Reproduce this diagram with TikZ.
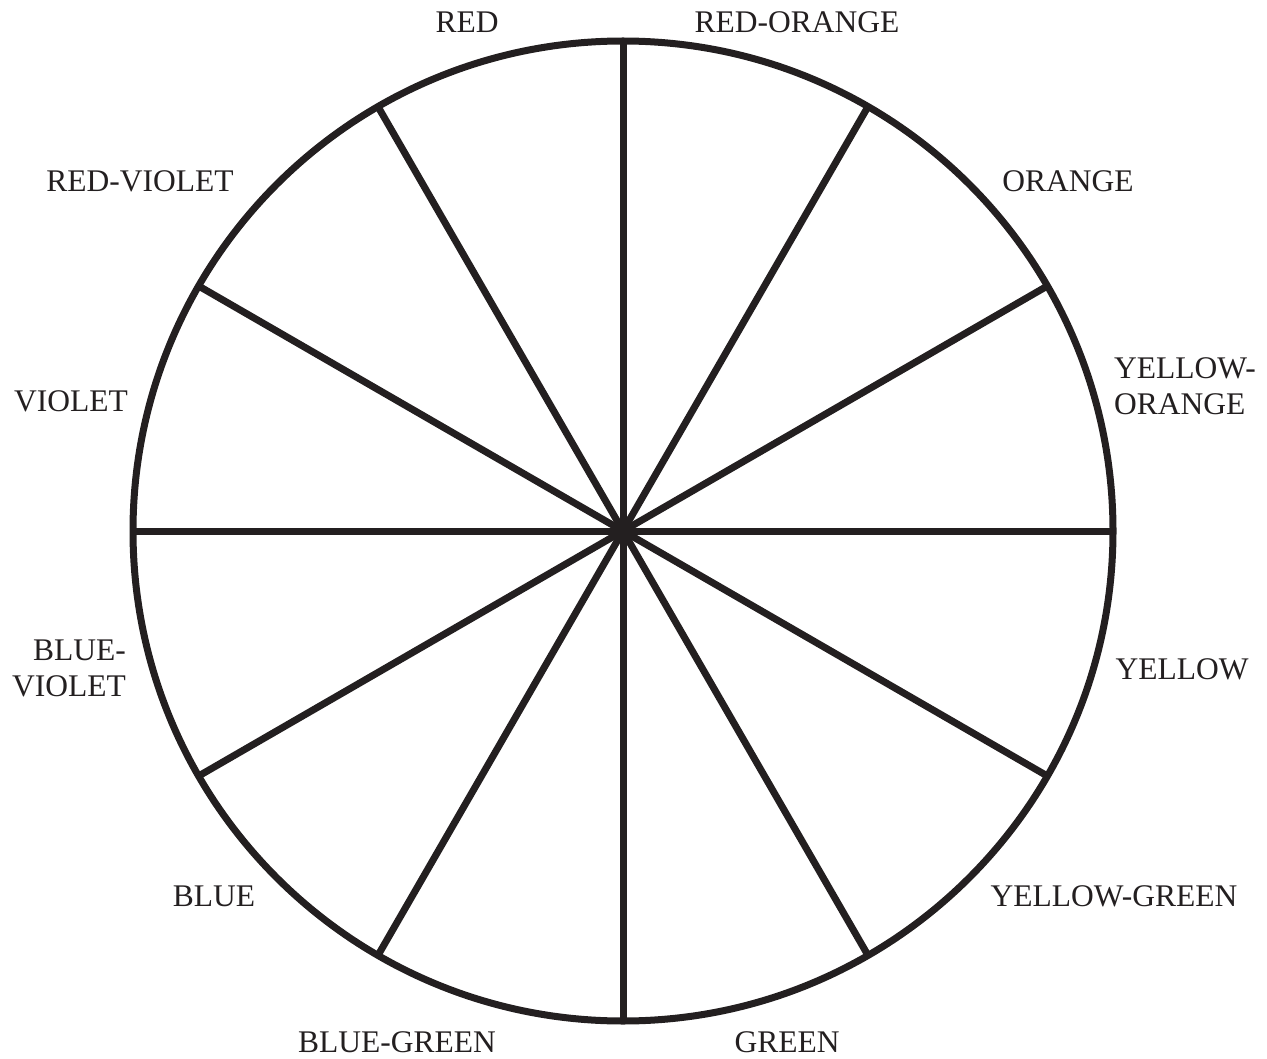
\documentclass[tikz,border=0pt]{standalone}
\usepackage{fontspec}
\setmainfont{Liberation Serif}
\definecolor{ink}{HTML}{231F20}
\begin{document}
\begin{tikzpicture}[x=1pt,y=-1pt,
  wheelline/.style={draw=ink,line width=7pt},
  lbl/.style={font=\fontsize{31.5}{36}\selectfont,text=ink,inner sep=0pt}]
\useasboundingbox (0,0) rectangle (1267,1059);
\coordinate (c) at (623,531);
\node[wheelline,circle,minimum size=980pt,inner sep=0pt] (wheel) at (c) {};
\foreach \a in {0,30,...,330}{
  \draw[wheelline,line cap=butt] (c) -- ++(\a:490);
}
\fill[ink] (c) circle (7pt);
\node[lbl] (red) at (467,22) {RED};
\node[lbl] (ro) at (797,22) {RED-ORANGE};
\node[lbl] (rv) at (140,181) {RED-VIOLET};
\node[lbl] (or) at (1068,181) {ORANGE};
\node[lbl,align=left] (yo) at (1185,386) {YELLOW-\\ORANGE};
\node[lbl] (vi) at (71,401) {VIOLET};
\node[lbl] (ye) at (1182,669) {YELLOW};
\node[lbl,align=right] (bv) at (69,668) {BLUE-\\VIOLET};
\node[lbl] (bl) at (214,896) {BLUE};
\node[lbl] (yg) at (1114,896) {YELLOW-GREEN};
\node[lbl] (bg) at (397,1042) {BLUE-GREEN};
\node[lbl] (gr) at (787,1042) {GREEN};
\end{tikzpicture}
\end{document}
